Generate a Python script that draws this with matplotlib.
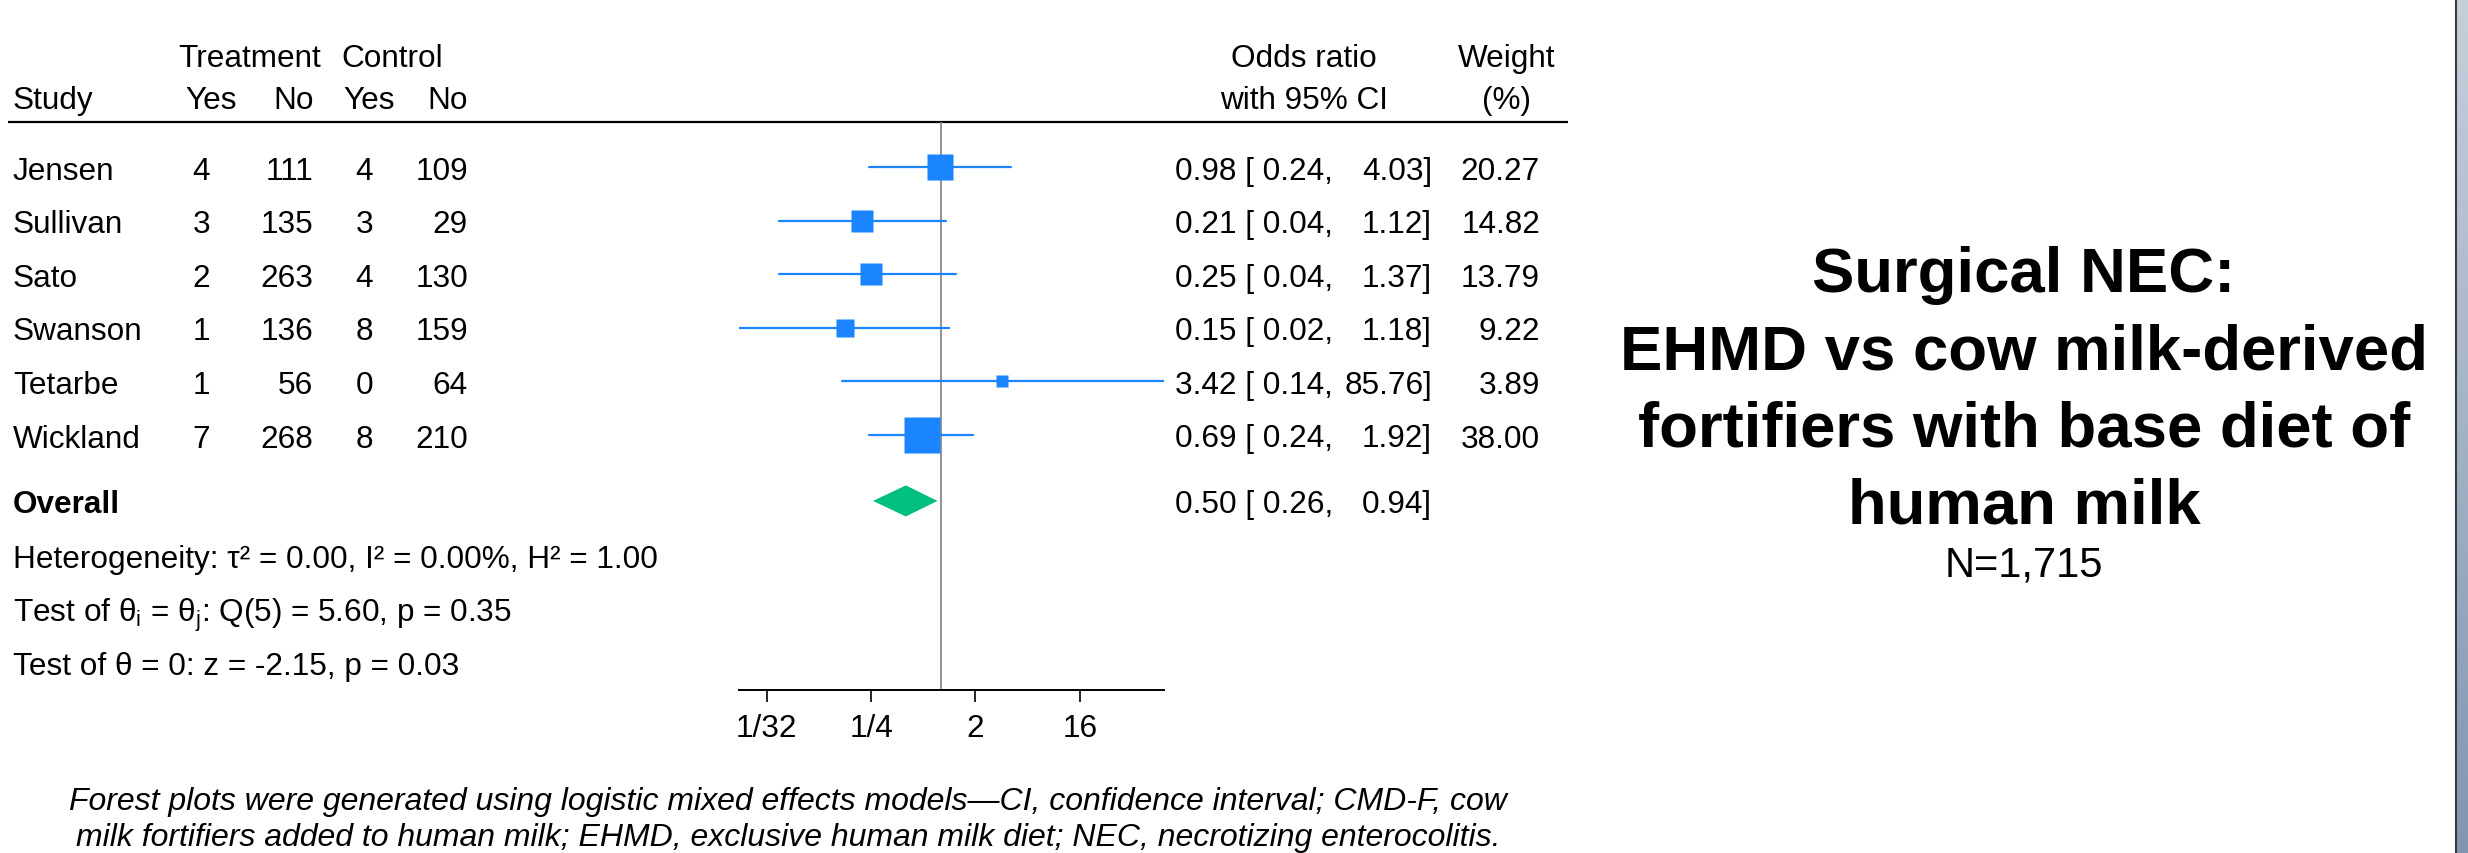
import numpy as np
import matplotlib
matplotlib.use("Agg")
import matplotlib.pyplot as plt
from matplotlib.transforms import blended_transform_factory
from matplotlib.ticker import NullLocator
from matplotlib.colors import LinearSegmentedColormap
from matplotlib.lines import Line2D

# ---------------- data ----------------
studies = ["Jensen", "Sullivan", "Sato", "Swanson", "Tetarbe", "Wickland"]
treat_yes = [4, 3, 2, 1, 1, 7]
treat_no = [111, 135, 263, 136, 56, 268]
ctrl_yes = [4, 3, 4, 8, 0, 8]
ctrl_no = [109, 29, 130, 159, 64, 210]
odds_ratio = [0.98, 0.21, 0.25, 0.15, 3.42, 0.69]
ci_lower = [0.24, 0.04, 0.04, 0.018, 0.14, 0.24]
ci_upper = [4.03, 1.12, 1.37, 1.18, 85.76, 1.92]
weights = [20.27, 14.82, 13.79, 9.22, 3.89, 38.00]
overall_or = 0.50
overall_lower = 0.26
overall_upper = 0.94
tick_values = [1 / 32, 1 / 4, 2, 16]
tick_labels = ["1/32", "1/4", "2", "16"]
het_text = "Heterogeneity: τ² = 0.00, I² = 0.00%, H² = 1.00"
test_het_text = r"Test of θ$_{\mathrm{i}}$ = θ$_{\mathrm{j}}$: Q(5) = 5.60, p = 0.35"
test_eff_text = "Test of θ = 0: z = -2.15, p = 0.03"
title_text = "Surgical NEC:\nEHMD vs cow milk-derived\nfortifiers with base diet of\nhuman milk"
n_text = "N=1,715"
footnote_text = ("Forest plots were generated using logistic mixed effects models\u2014CI, confidence interval; CMD-F, cow\n"
                 "milk fortifiers added to human milk; EHMD, exclusive human milk diet; NEC, necrotizing enterocolitis.")

# ---------------- style ----------------
plt.rcParams["font.family"] = ["Liberation Sans", "DejaVu Sans"]
plt.rcParams["mathtext.fontset"] = "custom"
plt.rcParams["mathtext.rm"] = "Liberation Sans"
plt.rcParams["mathtext.it"] = "Liberation Sans:italic"
plt.rcParams["mathtext.bf"] = "Liberation Sans:bold"

BLUE = "#1a85ff"
GREEN = "#00bf7f"
FS = 22.7

W, H, DPI = 2468, 854, 100
fig = plt.figure(figsize=(W / DPI, H / DPI), dpi=DPI)
fig.patch.set_facecolor("white")

bg = fig.add_axes([0, 0, 1, 1])
bg.set_xlim(0, W)
bg.set_ylim(H, 0)
bg.axis("off")

# forest axes geometry (pixels)
ax_left, ax_right = 739, 1164
ax_top, ax_bot = 123, 691
row_px0, row_step = 168, 53.6

ax = fig.add_axes([ax_left / W, 1 - ax_bot / H, (ax_right - ax_left) / W, (ax_bot - ax_top) / H])
ax.patch.set_alpha(0)


def px2row(py):
    return 1 + (py - row_px0) / row_step


n = len(studies)
rows = np.arange(1, n + 1)
overall_row = n + 1.23
stat_rows = n + np.array([2.24, 3.23, 4.24])

ax.set_xscale("log", base=2)
ax.set_xlim(min(ci_lower), max(ci_upper))
ax.set_ylim(px2row(ax_bot), px2row(ax_top))

ax.axvline(1, color="#8a8a8a", lw=1.3, zorder=1)

for y, o, lo, hi, w in zip(rows, odds_ratio, ci_lower, ci_upper, weights):
    ax.plot([lo, hi], [y, y], color=BLUE, lw=1.6, solid_capstyle="round", zorder=2)
    ax.plot([o], [y], marker="s", ms=5.8 * np.sqrt(w) * 0.72, color=BLUE, mec="none", zorder=3)

dh = 0.29
ax.fill([overall_lower, overall_or, overall_upper, overall_or],
        [overall_row, overall_row - dh, overall_row, overall_row + dh],
        color=GREEN, lw=0, zorder=3)

for s in ["top", "right", "left"]:
    ax.spines[s].set_visible(False)
ax.spines["bottom"].set_linewidth(1.4)
ax.set_xticks(tick_values)
ax.set_xticklabels(tick_labels)
ax.xaxis.set_minor_locator(NullLocator())
ax.tick_params(axis="x", direction="out", length=8.5, width=1.2, pad=8, labelsize=FS)
ax.tick_params(axis="y", left=False, labelleft=False)

# header rule
bg.plot([8, 1568], [ax_top, ax_top], color="black", lw=1.6, solid_capstyle="butt")

T = blended_transform_factory(bg.transData, ax.transData)


def txt(x, y, s, ha="left", **kw):
    ax.text(x, y, s, transform=T, ha=ha, va="center_baseline", fontsize=FS, clip_on=False, **kw)


# headers
h1, h2 = px2row(55), px2row(97)
txt(250, h1, "Treatment", ha="center")
txt(392, h1, "Control", ha="center")
txt(1304, h1, "Odds ratio", ha="center")
txt(1507, h1, "Weight", ha="center")
txt(13, h2, "Study")
txt(211, h2, "Yes", ha="center")
txt(294, h2, "No", ha="center")
txt(369, h2, "Yes", ha="center")
txt(448, h2, "No", ha="center")
txt(1304, h2, "with 95% CI", ha="center")
txt(1507, h2, "(%)", ha="center")

# rows
for y, name, a, b, c, d, o, lo, hi, w in zip(rows, studies, treat_yes, treat_no, ctrl_yes, ctrl_no,
                                             odds_ratio, ci_lower, ci_upper, weights):
    txt(13, y, name)
    txt(210, y, f"{a}", ha="right")
    txt(313, y, f"{b}", ha="right")
    txt(373, y, f"{c}", ha="right")
    txt(468, y, f"{d}", ha="right")
    txt(1175, y, f"{o:.2f} [ {lo:.2f},")
    txt(1432, y, f"{hi:.2f}]", ha="right")
    txt(1540, y, f"{w:.2f}", ha="right")

txt(13, overall_row, "Overall", weight="bold")
txt(1175, overall_row, f"{overall_or:.2f} [ {overall_lower:.2f},")
txt(1432, overall_row, f"{overall_upper:.2f}]", ha="right")

for y, s in zip(stat_rows, [het_text, test_het_text, test_eff_text]):
    txt(13, y, s)

# title block (va='baseline' anchors the last line's baseline)
fig.text(2024 / W, 1 - 524 / H, title_text, ha="center", va="baseline", multialignment="center",
         fontsize=45.7, weight="bold", linespacing=1.4)
fig.text(2024 / W, 1 - 577 / H, n_text, ha="center", va="baseline", fontsize=30)

# footnote
fig.text(788 / W, 1 - 846 / H, footnote_text, ha="center", va="baseline", multialignment="center",
         fontsize=23, style="italic", linespacing=1.26)

# right-edge strip
sax = fig.add_axes([2456 / W, 0, 12 / W, 1])
grad = np.linspace(0, 1, 256).reshape(-1, 1)
cmap = LinearSegmentedColormap.from_list("strip", ["#c6d0dc", "#8295b1"])
sax.imshow(grad, aspect="auto", cmap=cmap, extent=[0, 1, 0, 1], origin="upper")
sax.axis("off")
fig.add_artist(Line2D([2455.5 / W] * 2, [0, 1], transform=fig.transFigure, color="#3c3c3c", lw=1.5))

fig.savefig("out.png", dpi=DPI)
